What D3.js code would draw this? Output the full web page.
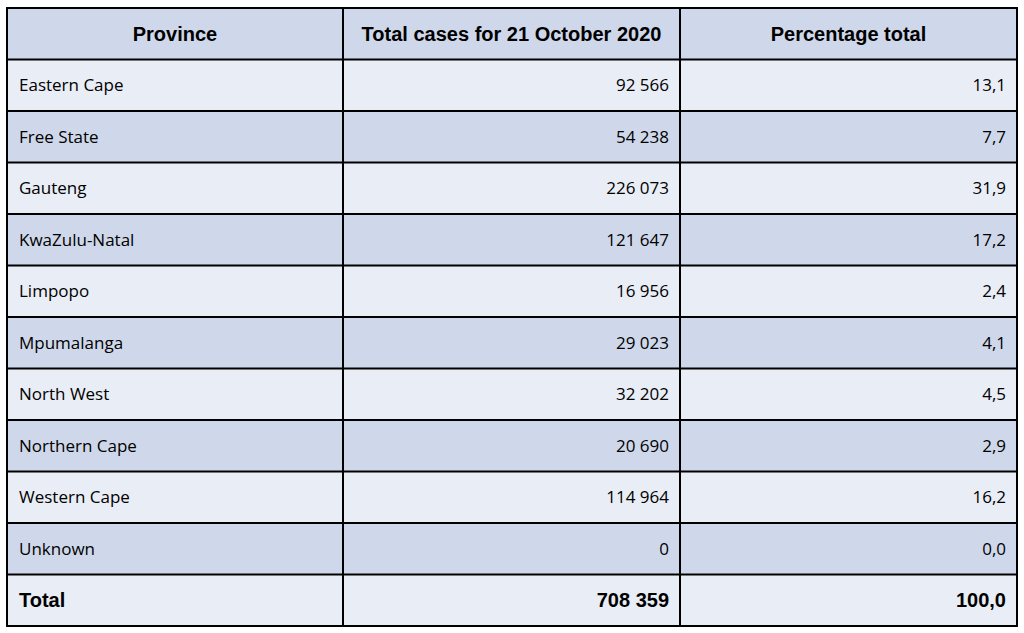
<!DOCTYPE html>
<html>
<head>
<meta charset="utf-8">
<script src="https://cdn.jsdelivr.net/npm/d3@7"></script>
<style>
  body { margin: 0; background: #fff; }
</style>
</head>
<body>
<div id="chart"></div>
<script>
// table contents
var headers = ['Province', 'Total cases for 21 October 2020', 'Percentage total'];
var provinces = ['Eastern Cape', 'Free State', 'Gauteng', 'KwaZulu-Natal', 'Limpopo',
                 'Mpumalanga', 'North West', 'Northern Cape', 'Western Cape', 'Unknown'];
var cases = [92566, 54238, 226073, 121647, 16956, 29023, 32202, 20690, 114964, 0];
var percents = [13.1, 7.7, 31.9, 17.2, 2.4, 4.1, 4.5, 2.9, 16.2, 0.0];
var totalLabel = 'Total';
var totalCases = 708359;
var totalPercent = 100.0;

var width = 1024, height = 633;
// note: `top` is taken by window.top, so use tableTop
var tableLeft = 7, tableRight = 1017, tableTop = 8, tableBottom = 626;

// space as thousands separator, comma decimal
var fmtCases = function(v) { return d3.format(',')(v).replace(/,/g, ' '); };
var fmtPct = function(v) { return d3.format('.1f')(v).replace('.', ','); };

var rows = provinces.map(function(p, i) {
  return {cells: [p, fmtCases(cases[i]), fmtPct(percents[i])], kind: 'body', i: i};
});
rows.unshift({cells: headers, kind: 'head'});
rows.push({cells: [totalLabel, fmtCases(totalCases), fmtPct(totalPercent)], kind: 'total'});

var y = d3.scaleBand()
    .domain(d3.range(rows.length))
    .range([tableTop, tableBottom]);

// column edges
var colEdges = [tableLeft, 343, 680, tableRight];

var svg = d3.select('#chart').append('svg')
    .attr('width', width)
    .attr('height', height);

var row = svg.selectAll('g.row')
    .data(rows).enter()
    .append('g')
      .attr('class', 'row')
      .attr('transform', function(d, i) { return 'translate(0,' + y(i) + ')'; });

row.append('rect')
    .attr('x', tableLeft)
    .attr('width', tableRight - tableLeft)
    .attr('height', y.bandwidth())
    .attr('fill', function(d) {
      if (d.kind === 'head') return '#cfd8ea';
      if (d.kind === 'total') return '#e9edf5';
      return d.i % 2 ? '#cfd8ea' : '#e9edf5';
    });

row.selectAll('text')
    .data(function(d) { return d.cells.map(function(c, j) { return {t: c, j: j, kind: d.kind}; }); })
    .enter()
    .append('text')
      .attr('x', function(d) {
        if (d.kind === 'head') return (colEdges[d.j] + colEdges[d.j + 1]) / 2;
        return d.j === 0 ? 19 : colEdges[d.j + 1] - 11;
      })
      .attr('y', y.bandwidth() / 2)
      .attr('dy', '0.36em')
      .attr('text-anchor', function(d) {
        if (d.kind === 'head') return 'middle';
        return d.j === 0 ? 'start' : 'end';
      })
      .style('font-family', function(d) {
        return d.kind === 'body' ? '"Open Sans", sans-serif' : '"Liberation Sans", Arial, sans-serif';
      })
      .style('font-weight', function(d) { return d.kind === 'body' ? 'normal' : 'bold'; })
      .style('font-size', function(d) { return d.kind === 'body' ? '17px' : '20px'; })
      .attr('fill', '#000')
      .text(function(d) { return d.t; });

// grid lines
svg.selectAll('line.h')
    .data(d3.range(rows.length + 1)).enter()
    .append('line')
      .attr('x1', tableLeft).attr('x2', tableRight)
      .attr('y1', function(i) { return i < rows.length ? y(i) : tableBottom; })
      .attr('y2', function(i) { return i < rows.length ? y(i) : tableBottom; })
      .attr('stroke', '#000')
      .attr('stroke-width', 2);

svg.selectAll('line.v')
    .data(colEdges).enter()
    .append('line')
      .attr('x1', Object).attr('x2', Object)
      .attr('y1', tableTop - 1).attr('y2', tableBottom + 1)
      .attr('stroke', '#000')
      .attr('stroke-width', 2);
</script>
</body>
</html>
